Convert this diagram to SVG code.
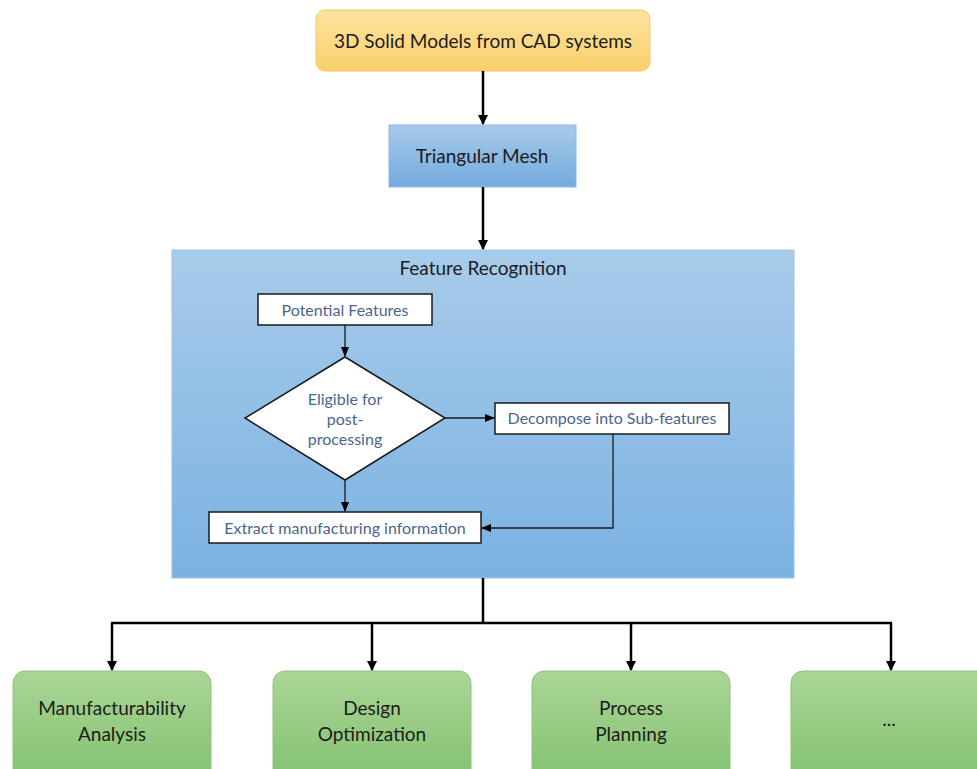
<svg xmlns="http://www.w3.org/2000/svg" width="977" height="769" viewBox="0 0 977 769">
<style>
.main{font-family:Lato,"Open Sans","Liberation Sans",sans-serif;font-size:19px;fill:#1c1c1c;text-anchor:middle}
.inner{font-family:Lato,"Open Sans","Liberation Sans",sans-serif;font-size:16px;fill:#4a6690;text-anchor:middle}
.wbox{fill:#ffffff;stroke:#1a1a1a;stroke-width:1.5}
.green{fill:url(#gg);stroke:#8cc47a;stroke-width:1}
.thick{stroke:#000;stroke-width:2.5;fill:none}
.thin{stroke:#1a1a1a;stroke-width:1.3;fill:none}
</style>
<defs>
<linearGradient id="gy" x1="0" y1="0" x2="0" y2="1"><stop offset="0" stop-color="#fde3a0"/><stop offset="1" stop-color="#fbd06c"/></linearGradient>
<linearGradient id="gb" x1="0" y1="0" x2="0" y2="1"><stop offset="0" stop-color="#a7c9ea"/><stop offset="1" stop-color="#73abdd"/></linearGradient>
<linearGradient id="gf" x1="0" y1="0" x2="0" y2="1"><stop offset="0" stop-color="#a8cbea"/><stop offset="1" stop-color="#7ab2e2"/></linearGradient>
<linearGradient id="gg" x1="0" y1="0" x2="0" y2="1"><stop offset="0" stop-color="#abd596"/><stop offset="1" stop-color="#82c270"/></linearGradient>
<marker id="ab" markerWidth="10" markerHeight="10" refX="9" refY="5" orient="auto" markerUnits="userSpaceOnUse"><path d="M0,0 L10,5 L0,10 Z" fill="#000"/></marker>
<marker id="as" markerWidth="10" markerHeight="10" refX="9" refY="5" orient="auto" markerUnits="userSpaceOnUse"><path d="M0,1 L10,5 L0,9 Z" fill="#000"/></marker>
</defs>
<rect width="977" height="769" fill="#ffffff"/>

<g id="cad">
<rect x="316" y="10" width="334" height="61" rx="9" fill="url(#gy)" stroke="#f2c868" stroke-width="1"/>
<text class="main" x="483" y="48">3D Solid Models from CAD systems</text>
</g>
<g id="mesh">
<rect x="389" y="125" width="187" height="62" fill="url(#gb)" stroke="#8db8e0" stroke-width="1"/>
<text class="main" x="482" y="163">Triangular Mesh</text>
</g>
<g id="feature-recognition">
<rect x="172" y="250" width="622" height="328" fill="url(#gf)" stroke="#9cc2e6" stroke-width="1"/>
<text class="main" x="483" y="275">Feature Recognition</text>
</g>
<g id="potential">
<rect class="wbox" x="258" y="294" width="174" height="31"/>
<text class="inner" x="345" y="316">Potential  Features</text>
</g>
<g id="eligible">
<polygon class="wbox" points="345,357 445,418 345,480 245,418"/>
<text class="inner" x="345" y="405">Eligible for</text>
<text class="inner" x="345" y="425">post-</text>
<text class="inner" x="345" y="445">processing</text>
</g>
<g id="decompose">
<rect class="wbox" x="495" y="403" width="234" height="31"/>
<text class="inner" x="612" y="424">Decompose into Sub-features</text>
</g>
<g id="extract">
<rect class="wbox" x="209" y="512" width="272" height="31"/>
<text class="inner" x="345" y="534">Extract manufacturing information</text>
</g>
<g id="manufacturability">
<rect class="green" x="13" y="671" width="198" height="110" rx="12"/>
<text class="main" x="112" y="715">Manufacturability</text>
<text class="main" x="112" y="741">Analysis</text>
</g>
<g id="design">
<rect class="green" x="273" y="671" width="198" height="110" rx="12"/>
<text class="main" x="372" y="715">Design</text>
<text class="main" x="372" y="741">Optimization</text>
</g>
<g id="process">
<rect class="green" x="532" y="671" width="198" height="110" rx="12"/>
<text class="main" x="631" y="715">Process</text>
<text class="main" x="631" y="741">Planning</text>
</g>
<g id="more">
<rect class="green" x="791" y="671" width="198" height="110" rx="12"/>
<text class="main" x="889" y="726">...</text>
</g>

<g id="connectors">
<line class="thick" x1="483" y1="71" x2="483" y2="124" marker-end="url(#ab)"/>
<line class="thick" x1="483" y1="187" x2="483" y2="249" marker-end="url(#ab)"/>
<line class="thick" x1="483" y1="578" x2="483" y2="623"/>
<line class="thick" x1="111" y1="623" x2="892" y2="623"/>
<line class="thick" x1="112" y1="623" x2="112" y2="670" marker-end="url(#ab)"/>
<line class="thick" x1="372" y1="623" x2="372" y2="670" marker-end="url(#ab)"/>
<line class="thick" x1="631" y1="623" x2="631" y2="670" marker-end="url(#ab)"/>
<line class="thick" x1="891" y1="623" x2="891" y2="670" marker-end="url(#ab)"/>
<line class="thin" x1="345" y1="325" x2="345" y2="356" marker-end="url(#as)"/>
<line class="thin" x1="445" y1="418" x2="494" y2="418" marker-end="url(#as)"/>
<line class="thin" x1="345" y1="480" x2="345" y2="511" marker-end="url(#as)"/>
<polyline class="thin" points="613,434 613,528 482,528" marker-end="url(#as)"/>
</g>
</svg>
